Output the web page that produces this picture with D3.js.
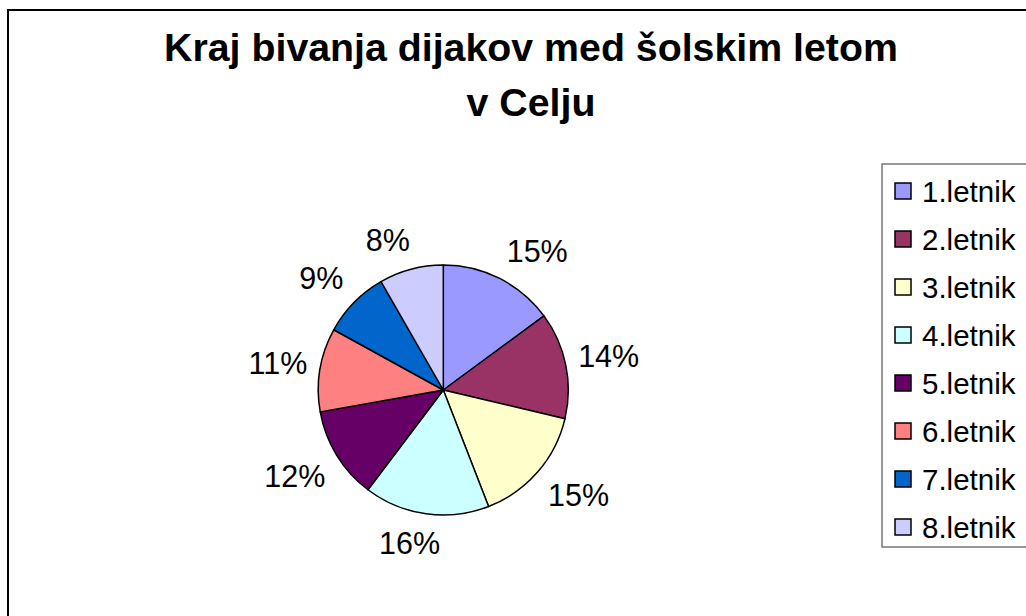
<!DOCTYPE html>
<html>
<head>
<meta charset="utf-8">
<script src="https://cdn.jsdelivr.net/npm/d3@7"></script>
<style>
  html, body { margin: 0; padding: 0; background: #fff; }
  svg { display: block; font-family: "Liberation Sans", Arial, sans-serif; }
</style>
</head>
<body>
<svg id="chart" width="1026" height="616"></svg>
<script>
"use strict";

// chart data
const titleLines = ["Kraj bivanja dijakov med šolskim letom", "v Celju"];
const categories = ["1.letnik", "2.letnik", "3.letnik", "4.letnik",
                    "5.letnik", "6.letnik", "7.letnik", "8.letnik"];
const shares = [14.9, 13.8, 15.4, 16.2, 11.9, 10.8, 8.7, 8.3];
const colors = ["#9999FF", "#993366", "#FFFFCC", "#CCFFFF",
                "#660066", "#FF8080", "#0066CC", "#CCCCFF"];

const svg = d3.select("#chart");
const W = 1026, H = 616;

// outer chart frame (right and bottom edges are off-canvas)
svg.append("rect")
  .attr("x", 8).attr("y", 10)
  .attr("width", W + 20).attr("height", H + 20)
  .attr("fill", "#fff")
  .attr("stroke", "#000")
  .attr("stroke-width", 2);

// title
svg.append("text")
  .attr("text-anchor", "middle")
  .attr("font-weight", "bold")
  .attr("font-size", 39.3)
  .selectAll("tspan")
  .data(titleLines)
  .join("tspan")
  .attr("x", 531)
  .attr("y", (d, i) => 61 + i * 55)
  .text(d => d);

// pie
const cx = 443.3, cy = 390, R = 125;
const total = d3.sum(shares);
const pie = d3.pie().sort(null).value(d => d)(shares);
const arc = d3.arc().innerRadius(0).outerRadius(R);

const g = svg.append("g").attr("transform", `translate(${cx},${cy})`);

g.selectAll("path")
  .data(pie)
  .join("path")
  .attr("d", arc)
  .attr("fill", (d, i) => colors[i])
  .attr("stroke", "#000")
  .attr("stroke-width", 1.5)
  .attr("stroke-linejoin", "round");

// data labels: nearest corner of the label box sits on a ring at the mid angle
const anchorR = 143;
const clamp = v => Math.max(-1, Math.min(1, v));
const labels = g.selectAll("text.lbl")
  .data(pie)
  .join("text")
  .attr("class", "lbl")
  .attr("font-size", 30.5)
  .attr("text-anchor", "middle")
  .attr("dy", "0.36em")
  .text(d => Math.round(d.value / total * 100) + "%");

labels.each(function(d) {
  const a = (d.startAngle + d.endAngle) / 2;
  const ux = Math.sin(a), uy = -Math.cos(a);
  const hw = this.getComputedTextLength() / 2;
  const hh = 11.5;
  const x = anchorR * ux + hw * (1 - 0.18 * ux * ux) * clamp(ux / 0.3);
  const y = anchorR * uy + hh * clamp(uy / 0.45);
  d3.select(this).attr("x", x).attr("y", y);
});

// legend
const legend = svg.append("g");
legend.append("rect")
  .attr("x", 882).attr("y", 164)
  .attr("width", 200).attr("height", 383)
  .attr("fill", "#fff")
  .attr("stroke", "#777")
  .attr("stroke-width", 1.5);

const ly = d3.scalePoint().domain(categories).range([191.5, 527.5]);

const item = legend.selectAll("g.item")
  .data(categories)
  .join("g")
  .attr("class", "item")
  .attr("transform", d => `translate(0,${ly(d)})`);

item.append("rect")
  .attr("x", 895).attr("y", -8.5)
  .attr("width", 16).attr("height", 16)
  .attr("fill", (d, i) => colors[i])
  .attr("stroke", "#000")
  .attr("stroke-width", 1.5);

item.append("text")
  .attr("x", 922)
  .attr("dy", "0.34em")
  .attr("font-size", 29.5)
  .text(d => d);
</script>
</body>
</html>
